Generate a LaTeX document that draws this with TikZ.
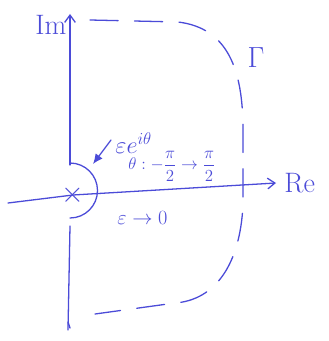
\documentclass[tikz,border=0pt]{standalone}
\usepackage{amsmath}
\usetikzlibrary{arrows.meta,positioning}
\definecolor{Pen}{HTML}{4B4BD8}
\tikzset{
  pen/.style={draw=Pen,line width=1.1pt,line cap=round},
  axis/.style={pen,-{Straight Barb[length=2.2mm,width=3.2mm]}},
  contour/.style={pen,dash pattern=on 24pt off 14pt},
  hand/.style={text=Pen,inner sep=1pt,font=\fontsize{24}{26}\selectfont}
}
\begin{document}
\begin{tikzpicture}[x=0.03cm,y=-0.03cm]
\useasboundingbox[fill=white] (0,0) rectangle (328,341);
% axes
\node[text=Pen,font=\fontsize{30}{30}\selectfont,inner sep=0pt] (pole) at (73,195) {$\times$};
\coordinate (imtop) at (70,14);
\coordinate (imlow) at (70,165);
\coordinate (imgap) at (70,226);
\coordinate (imbot) at (68,330);
\coordinate (releft) at (8,203);
\coordinate (retip) at (276,183);
\draw[axis] (imlow) -- (imtop);
\draw[pen] (imgap) -- (imbot);
\draw[pen] (68,322) -- (70,328);
\draw[axis] (releft) -- (pole.center) -- (retip);
\node[hand,right=6pt of retip] (re) {Re};
\node[hand,left=2pt of imtop,yshift=-9pt] (im) {Im};
% small indentation
\draw[pen] (70,163) arc[start angle=-90,end angle=90,radius=27.5];
\coordinate (arcpt) at (93,164);
\draw[pen,-{Latex[length=3mm,width=2.6mm]}] (111,140) -- (arcpt);
\node[hand,anchor=west,font=\fontsize{20}{22}\selectfont] (eps) at (114,143) {$\varepsilon e^{i\theta}$};
\node[hand,anchor=west,font=\fontsize{14}{16}\selectfont] (theta) at (127,166) {$\theta:-\dfrac{\pi}{2}\to\dfrac{\pi}{2}$};
\node[hand,anchor=west,font=\fontsize{19}{20}\selectfont] (lim) at (116,218) {$\varepsilon\to 0$};
% big contour
\draw[contour] (90,20) -- (178,22) .. controls (228,28) and (243,70) .. (243,130)
  -- (243,205) .. controls (240,265) and (215,300) .. (175,303) -- (95,314);
\node[hand,font=\fontsize{32}{32}\selectfont] (gam) at (256,58) {$\Gamma$};
\end{tikzpicture}
\end{document}
